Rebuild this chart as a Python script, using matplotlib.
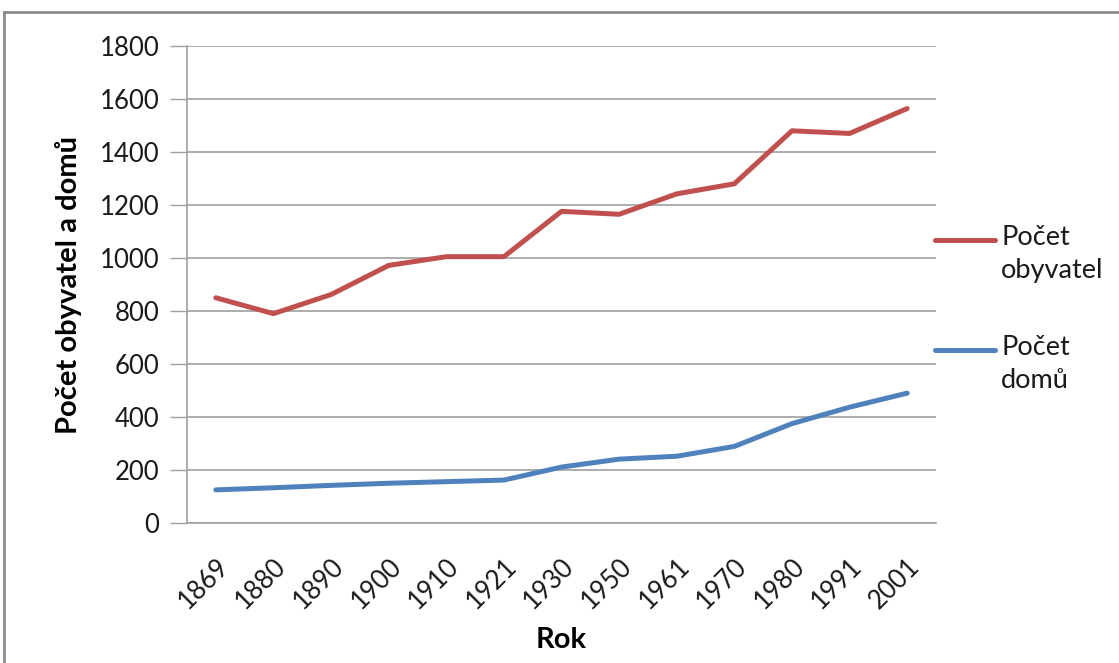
import matplotlib.pyplot as plt
from matplotlib.lines import Line2D

# data: population and number of houses by census year
roky = ['1869', '1880', '1890', '1900', '1910', '1921', '1930',
        '1950', '1961', '1970', '1980', '1991', '2001']
obyvatel = [850, 790, 862, 972, 1005, 1005, 1176, 1165, 1242, 1280, 1480, 1470, 1564]
domu = [125, 133, 142, 150, 156, 162, 211, 241, 252, 289, 375, 437, 490]

plt.rcParams['font.family'] = ['Lato', 'DejaVu Sans']

W, H = 1119, 663
fig = plt.figure(figsize=(W / 100, H / 100), dpi=100)
ax = fig.add_axes([187 / W, 1 - 523 / H, (936 - 187) / W, (523 - 46) / H])

x = range(len(roky))
ax.plot(x, obyvatel, color='#C0504D', lw=3.6, solid_capstyle='round', solid_joinstyle='round')
ax.plot(x, domu, color='#4F81BD', lw=3.6, solid_capstyle='round', solid_joinstyle='round')

ax.set_xlim(-0.5, len(roky) - 0.5)
ax.set_ylim(0, 1800)
ax.set_yticks(range(0, 1801, 200))
ax.set_xticks(list(x))
ax.set_xticklabels(roky, rotation=45, ha='right', rotation_mode='anchor')
ax.tick_params(axis='x', length=0, pad=22, labelsize=18.5, labelcolor='#1a1a1a')
ax.tick_params(axis='y', length=12, width=1, color='#A0A0A0', pad=8, labelsize=18.5,
               labelcolor='#1a1a1a')
ax.grid(axis='y', color='#A0A0A0', lw=1.2)
ax.set_axisbelow(True)
for side in ['top', 'right']:
    ax.spines[side].set_visible(False)
for side in ['left', 'bottom']:
    ax.spines[side].set_color('#A0A0A0')
    ax.spines[side].set_linewidth(1.2)

ax.set_xlabel('Rok', fontsize=21, fontweight='bold', va='center')
ax.set_ylabel('Počet obyvatel a domů', fontsize=21, fontweight='bold', va='center')
ax.xaxis.set_label_coords(0.5, (523 - 640) / 477)
ax.yaxis.set_label_coords((68 - 187) / 749, 0.5)

# legend drawn by hand so the key lines up with the first text line
polozky = [('Počet\nobyvatel', '#C0504D', 240), ('Počet\ndomů', '#4F81BD', 350)]
for text, barva, yp in polozky:
    fig.add_artist(Line2D([935 / W, 995 / W], [1 - yp / H, 1 - yp / H],
                          color=barva, lw=3.6, solid_capstyle='round'))
    fig.text(1001 / W, 1 - (yp - 15) / H, text, fontsize=19.5, va='top', ha='left',
             linespacing=1.42, color='#1a1a1a')

# outer frame
fig.add_artist(Line2D([4 / W, 1], [1 - 12 / H, 1 - 12 / H], color='#8C8C8C', lw=2))
fig.add_artist(Line2D([4 / W, 4 / W], [0, 1 - 12 / H], color='#8C8C8C', lw=2))

fig.savefig('out.png', dpi=100)
